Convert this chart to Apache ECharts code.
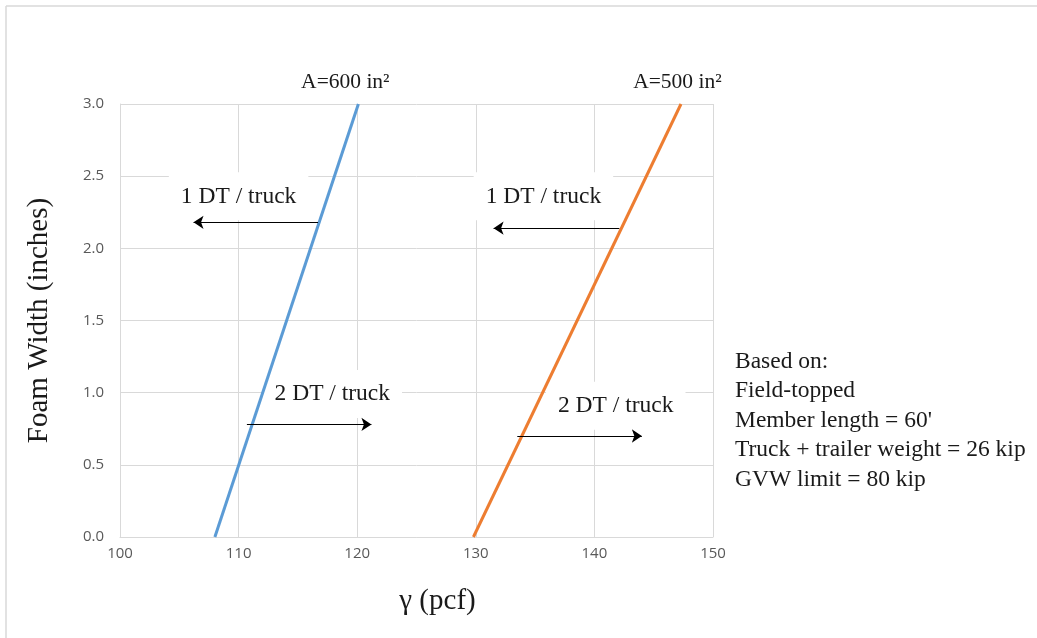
<!DOCTYPE html>
<html>
<head>
<meta charset="utf-8">
<script src="https://cdn.jsdelivr.net/npm/echarts@6/dist/echarts.min.js"></script>
<style>
  html, body { margin: 0; padding: 0; background: #fff; }
  #chart { width: 1037px; height: 638px; }
</style>
</head>
<body>
<div id="chart"></div>
<script>
// line data: [gamma (pcf), foam width (in)]
const area600 = [[108.0, 0], [120.1, 3.0]];
const area500 = [[129.8, 0], [147.3, 3.0]];

// arrows: [x from, y, x to]
const arrows = [
  [116.7, 2.18, 106.2],
  [110.7, 0.78, 121.2],
  [142.1, 2.14, 131.5],
  [133.5, 0.70, 144.0]
];

// text annotations: [x, y, text]
const notes = [
  [110.0, 2.36, '1 DT / truck'],
  [135.7, 2.36, '1 DT / truck'],
  [117.9, 0.99, '2 DT / truck'],
  [141.8, 0.91, '2 DT / truck']
];
const areaNotes = [
  [119.0, 3.15, 'A=600 in²'],
  [147.0, 3.15, 'A=500 in²']
];

const basedOn = [
  'Based on:',
  'Field-topped',
  "Member length = 60'",
  'Truck + trailer weight = 26 kip',
  'GVW limit = 80 kip'
];

const xTicks = { min: 100, max: 150, interval: 10 };
const yTicks = { min: 0, max: 3, interval: 0.5 };

const serif = '"Liberation Serif", "Times New Roman", serif';
const sans = '"Open Sans", "Noto Sans", sans-serif';

const myChart = echarts.init(document.getElementById('chart'));

const option = {
  animation: false,
  grid: { left: 120, right: 324, top: 104, bottom: 101 },
  xAxis: {
    type: 'value',
    min: xTicks.min,
    max: xTicks.max,
    interval: xTicks.interval,
    name: 'γ (pcf)',
    nameLocation: 'middle',
    nameGap: 50,
    nameTextStyle: { fontFamily: serif, fontSize: 29, color: '#1a1a1a', padding: [0, 0, 0, 42] },
    axisLine: { show: true, lineStyle: { color: '#d9d9d9' } },
    axisTick: { show: false },
    axisLabel: { fontFamily: sans, fontSize: 15, color: '#595959', margin: 9 },
    splitLine: { lineStyle: { color: '#d9d9d9' } }
  },
  yAxis: {
    type: 'value',
    min: yTicks.min,
    max: yTicks.max,
    interval: yTicks.interval,
    name: 'Foam Width (inches)',
    nameLocation: 'middle',
    nameGap: 66,
    nameTextStyle: { fontFamily: serif, fontSize: 29, color: '#1a1a1a' },
    axisLine: { show: true, lineStyle: { color: '#d9d9d9' } },
    axisTick: { show: false },
    axisLabel: {
      fontFamily: sans, fontSize: 15, color: '#595959', margin: 16,
      formatter: v => v.toFixed(1)
    },
    splitLine: { lineStyle: { color: '#d9d9d9' } }
  },
  graphic: [
    { type: 'line', shape: { x1: 6, y1: 6, x2: 1037, y2: 6 }, style: { stroke: '#d9d9d9', lineWidth: 1.5 } },
    { type: 'line', shape: { x1: 6, y1: 6, x2: 6, y2: 638 }, style: { stroke: '#d9d9d9', lineWidth: 1.5 } },
    {
      type: 'text',
      left: 735,
      top: 347,
      style: {
        text: basedOn.join('\n'),
        fontFamily: serif,
        fontSize: 23.5,
        lineHeight: 29.5,
        fill: '#1a1a1a'
      }
    }
  ],
  series: [
    {
      type: 'scatter',
      symbolSize: 0,
      clip: false,
      z: 3,
      silent: true,
      itemStyle: { opacity: 1 },
      data: notes,
      label: {
        show: true,
        position: 'inside',
        formatter: p => p.data[2],
        fontFamily: serif,
        fontSize: 23.5,
        color: '#1a1a1a',
        opacity: 1,
        backgroundColor: '#fff',
        padding: [12, 12]
      }
    },
    {
      type: 'scatter',
      symbolSize: 0,
      clip: false,
      z: 3,
      silent: true,
      itemStyle: { opacity: 1 },
      data: areaNotes,
      label: {
        show: true,
        position: 'inside',
        formatter: p => p.data[2],
        fontFamily: serif,
        fontSize: 21.5,
        color: '#1a1a1a',
        opacity: 1
      }
    },
    {
      type: 'line',
      data: area600,
      symbol: 'none',
      z: 4,
      lineStyle: { color: '#5b9bd5', width: 3 }
    },
    {
      type: 'line',
      data: area500,
      symbol: 'none',
      z: 4,
      lineStyle: { color: '#ed7d31', width: 3 }
    },
    {
      type: 'lines',
      coordinateSystem: 'cartesian2d',
      z: 5,
      symbol: ['none', 'arrow'],
      symbolSize: 10,
      lineStyle: { color: '#000', width: 1, opacity: 1 },
      data: arrows.map(a => ({ coords: [[a[0], a[1]], [a[2], a[1]]] }))
    }
  ]
};

myChart.setOption(option);
</script>
</body>
</html>
